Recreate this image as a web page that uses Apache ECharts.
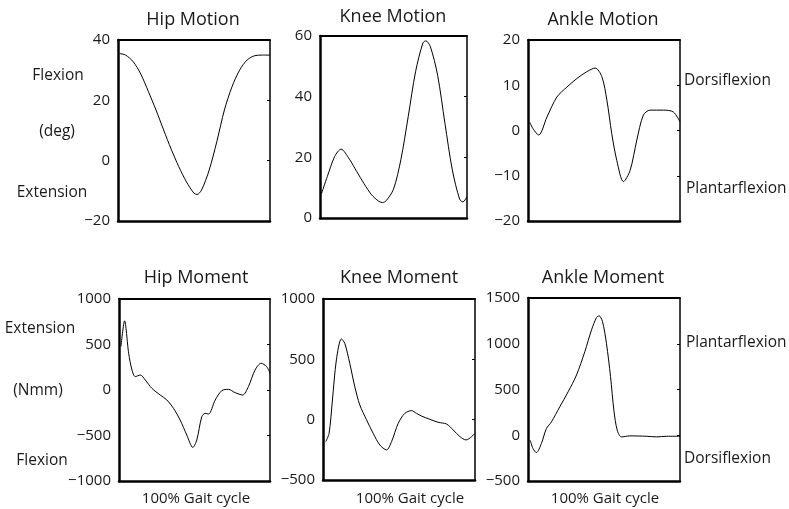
<!DOCTYPE html>
<html>
<head>
<meta charset="utf-8">
<script src="https://cdn.jsdelivr.net/npm/echarts@6/dist/echarts.min.js"></script>
<style>
  html, body { margin: 0; padding: 0; background: #fff; }
  #chart { width: 789px; height: 509px; }
</style>
</head>
<body>
<div id="chart"></div>
<script>
// Joint kinematics and kinetics over one gait cycle (x = % of cycle)

// Hip motion (deg)
const hipMotionX = [1, 5, 10, 15, 20, 25, 30, 35, 40, 45, 50, 52, 55, 60, 65, 70, 75, 80, 85, 90, 95, 100];
const hipMotionY = [35.5, 35, 32.8, 28.7, 22.9, 16.8, 10.2, 3.8, -2, -7, -10.8, -11.2, -9.7, -3.1, 6.3, 16.8, 24.5, 30, 33.4, 34.8, 35, 35];

// Knee motion (deg)
const kneeMotionX = [1, 5, 10, 14.3, 20, 25, 30, 35, 40, 42.5, 45, 50, 55, 60, 65, 70, 72, 75, 80, 85, 90, 95, 97.3, 100];
const kneeMotionY = [8.0, 13.7, 20.3, 22.7, 19.4, 15.3, 11.3, 7.7, 5.5, 5.1, 5.7, 9.5, 19.2, 33.4, 48.2, 57.7, 58.4, 56.6, 47.1, 31.2, 15.9, 6.2, 5.3, 7.1];

// Ankle motion (deg)
const ankleMotionX = [1, 3.5, 7, 12.5, 19, 25.6, 32.2, 38.7, 44.2, 48.6, 51.9, 55.1, 58.4, 62.8, 67.2, 71.6, 75.9, 80.3, 89, 95.6, 100];
const ankleMotionY = [1.9, 0.3, -1.0, 3.0, 7.4, 9.6, 11.5, 13.0, 13.8, 11.9, 6.7, -0.7, -6.6, -11.3, -8.8, -2.1, 3.4, 4.5, 4.5, 4.1, 1.9];

// Hip moment (Nmm)
const hipMomentX = [1.3, 3.7, 6.4, 8.6, 10.8, 14.1, 17.4, 21.8, 27.3, 31.7, 36.1, 40.5, 44.9, 48.9, 51.5, 54.8, 57, 59.3, 63.7, 68.1, 72.5, 76.9, 81.9, 85.7, 90.1, 94.1, 97.8, 100];
const hipMomentY = [477, 760, 404, 220, 147, 165, 110, 18, -55, -110, -202, -330, -495, -631, -550, -294, -257, -264, -110, -7, 7, -29, -55, 37, 220, 294, 257, 183];

// Knee moment (Nmm)
const kneeMomentX = [1.8, 4, 6.2, 8.8, 12.1, 14.3, 17.6, 20.9, 24.2, 28.6, 33, 37.4, 41.8, 45.1, 49.5, 53.8, 58.2, 61.5, 64.8, 70.3, 75.8, 81.3, 85.7, 90.1, 94.1, 97.8, 100];
const kneeMomentY = [-182, -113, 163, 495, 669, 633, 467, 274, 122, 0, -113, -210, -251, -182, -30, 52, 75, 52, 30, 3, -22, -36, -86, -141, -168, -141, -113];

// Ankle moment (Nmm)
const ankleMomentX = [1.5, 3.3, 5.5, 8.8, 12.1, 15.4, 20.9, 26.4, 31.9, 37.4, 41.8, 45.1, 46.8, 49, 51.6, 54.3, 56.5, 58.7, 61.5, 67, 78, 84.6, 91.2, 100];
const ankleMomentY = [-55, -146, -190, -91, 73, 146, 311, 475, 658, 914, 1152, 1287, 1305, 1243, 1005, 640, 274, 55, -18, -7, -11, -18, -11, -11];

// Panel titles and y-axis ranges [min, max, step]
const panelTitles = ['Hip Motion', 'Knee Motion', 'Ankle Motion', 'Hip Moment', 'Knee Moment', 'Ankle Moment'];
const yRanges = [[-20, 40, 20], [0, 60, 20], [-20, 20, 10], [-1000, 1000, 500], [-500, 1000, 500], [-500, 1500, 500]];
const xLabel = '100% Gait cycle';

const FONT = 'Open Sans';
const TEXT = '#1a1a1a';

const panels = [
  { x: hipMotionX, y: hipMotionY, grid: { left: 118, top: 40, width: 152, height: 181 }, title: [193, 20] },
  { x: kneeMotionX, y: kneeMotionY, grid: { left: 320, top: 36, width: 147, height: 182 }, title: [393, 17] },
  { x: ankleMotionX, y: ankleMotionY, grid: { left: 528, top: 40, width: 152, height: 181 }, title: [603, 20] },
  { x: hipMomentX, y: hipMomentY, grid: { left: 119, top: 299, width: 151, height: 182 }, title: [196, 278], xl: [196, 499] },
  { x: kneeMomentX, y: kneeMomentY, grid: { left: 323, top: 299, width: 152, height: 181 }, title: [399, 278], xl: [410, 499] },
  { x: ankleMomentX, y: ankleMomentY, grid: { left: 528, top: 298, width: 152, height: 183 }, title: [603, 278], xl: [605, 499] }
];

const fmt = v => (v < 0 ? '\u2212' + Math.abs(v) : String(v));

const grid = [], xAxis = [], yAxis = [], series = [], graphic = [];

panels.forEach((p, i) => {
  grid.push(Object.assign({ containLabel: false }, p.grid));
  const [ymin, ymax, step] = yRanges[i];
  // bottom (thick) and top (thin) x axes
  xAxis.push({
    type: 'value', gridIndex: i, min: 0, max: 100, position: 'bottom',
    axisLine: { show: true, onZero: false, lineStyle: { color: '#000', width: 2.5 } },
    axisTick: { show: false }, axisLabel: { show: false }, splitLine: { show: false }
  });
  xAxis.push({
    type: 'value', gridIndex: i, min: 0, max: 100, position: 'top',
    axisLine: { show: true, onZero: false, lineStyle: { color: '#000', width: 1.8 } },
    axisTick: { show: false }, axisLabel: { show: false }, splitLine: { show: false }
  });
  // left (thick, labelled) and right (thin, inward ticks) y axes
  yAxis.push({
    type: 'value', gridIndex: i, min: ymin, max: ymax, interval: step, position: 'left',
    axisLine: { show: true, onZero: false, lineStyle: { color: '#000', width: 2.5 } },
    axisTick: { show: false },
    axisLabel: { show: true, margin: 8, color: TEXT, fontSize: 15, fontFamily: FONT, formatter: fmt },
    splitLine: { show: false }
  });
  yAxis.push({
    type: 'value', gridIndex: i, min: ymin, max: ymax, interval: step, position: 'right',
    axisLine: { show: true, onZero: false, lineStyle: { color: '#000', width: 1.5 } },
    axisTick: { show: true, inside: true, length: 3, lineStyle: { color: '#000', width: 1 } },
    axisLabel: { show: false }, splitLine: { show: false }
  });
  series.push({
    type: 'line', xAxisIndex: 2 * i, yAxisIndex: 2 * i,
    data: p.x.map((x, k) => [x, p.y[k]]),
    smooth: 0.3, showSymbol: false, symbol: 'none',
    lineStyle: { color: '#000', width: 1 }, silent: true
  });
  graphic.push({
    type: 'text', x: p.title[0], y: p.title[1],
    style: { text: panelTitles[i], align: 'center', verticalAlign: 'middle', fontSize: 18, fontFamily: FONT, fill: TEXT }
  });
  if (p.xl) {
    graphic.push({
      type: 'text', x: p.xl[0], y: p.xl[1],
      style: { text: xLabel, align: 'center', verticalAlign: 'middle', fontSize: 15, fontFamily: FONT, fill: TEXT }
    });
  }
});

// side annotations
const sideLabels = [
  ['Flexion', 58, 76, 'center'],
  ['(deg)', 57, 132, 'center'],
  ['Extension', 52, 193, 'center'],
  ['Dorsiflexion', 684, 81, 'left'],
  ['Plantarflexion', 686, 189, 'left'],
  ['Extension', 40, 329, 'center'],
  ['(Nmm)', 38, 391, 'center'],
  ['Flexion', 42, 461, 'center'],
  ['Plantarflexion', 686, 343, 'left'],
  ['Dorsiflexion', 684, 459, 'left']
];
sideLabels.forEach(([t, x, y, a]) => {
  graphic.push({
    type: 'text', x, y,
    style: { text: t, align: a, verticalAlign: 'middle', fontSize: 15.5, fontFamily: FONT, fill: TEXT }
  });
});

const chart = echarts.init(document.getElementById('chart'), null, { renderer: 'canvas' });
chart.setOption({ animation: false, backgroundColor: '#fff', grid, xAxis, yAxis, series, graphic });
</script>
</body>
</html>
